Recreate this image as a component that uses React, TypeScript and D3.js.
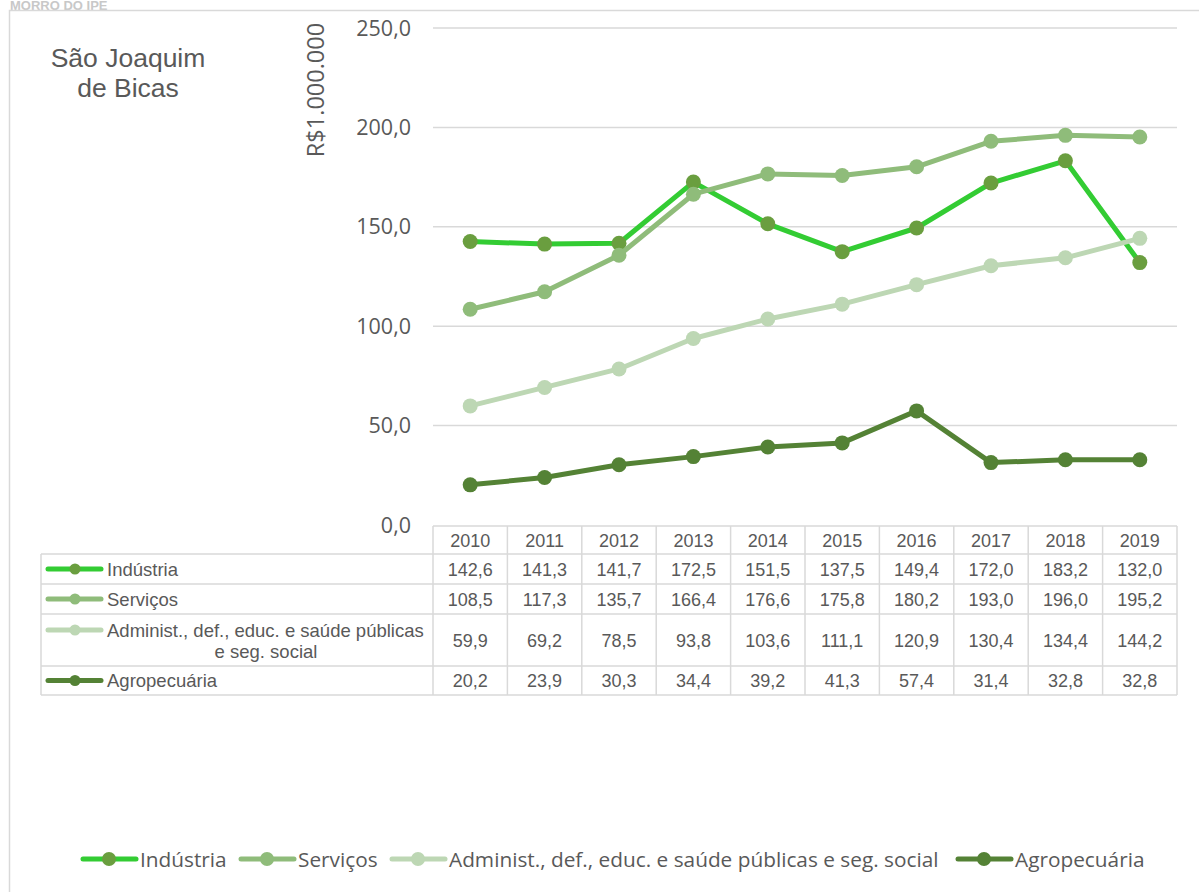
import React from "react";
import * as d3 from "d3";

const years = ["2010", "2011", "2012", "2013", "2014", "2015", "2016", "2017", "2018", "2019"];
const industria = [142.6, 141.3, 141.7, 172.5, 151.5, 137.5, 149.4, 172.0, 183.2, 132.0];
const servicos = [108.5, 117.3, 135.7, 166.4, 176.6, 175.8, 180.2, 193.0, 196.0, 195.2];
const administ = [59.9, 69.2, 78.5, 93.8, 103.6, 111.1, 120.9, 130.4, 134.4, 144.2];
const agro = [20.2, 23.9, 30.3, 34.4, 39.2, 41.3, 57.4, 31.4, 32.8, 32.8];
const yTicks = [0, 50, 100, 150, 200, 250];

const series = [
  { name: "Indústria", tableName: ["Indústria"], values: industria, line: "#33CC33", marker: "#6A9E3F" },
  { name: "Serviços", tableName: ["Serviços"], values: servicos, line: "#8FBC7A", marker: "#8FBC7A" },
  { name: "Administ., def., educ. e saúde públicas e seg. social", tableName: ["Administ., def., educ. e saúde públicas", "e seg. social"], values: administ, line: "#BDD7B4", marker: "#BDD7B4" },
  { name: "Agropecuária", tableName: ["Agropecuária"], values: agro, line: "#548235", marker: "#548235" },
];

const fmt = (v: number) => v.toFixed(1).replace(".", ",");

export default function App() {
  const W = 1199, H = 892;
  const plotL = 433, plotR = 1177, plotT = 28, plotB = 525;
  const x = d3.scaleBand<string>().domain(years).range([plotL, plotR]);
  const y = d3.scaleLinear().domain([0, 250]).range([plotB, plotT]);
  const line = d3.line<number>().x((_, i) => x(years[i])! + x.bandwidth() / 2).y((d) => y(d));

  const rowEdges = [526, 554, 584, 614, 666, 695];
  const tableLeft = 41;
  const grid = "#D9D9D9";
  const txt = "#595959";
  const tf = "Liberation Sans, Arial";

  const legendItems = [81, 239, 390, 956];

  return (
    <svg width={W} height={H} style={{ position: "absolute", left: 0, top: 0, background: "#fff" }}>
      <text x={10} y={9.5} fontFamily={tf} fontWeight="bold" fontSize={13} fill="#C8C8C8">MORRO DO IPE</text>
      <rect x={9.5} y={10.5} width={1200} height={900} fill="none" stroke="#D9D9D9" strokeWidth={1.5} />

      <text x={128} y={67} textAnchor="middle" fontFamily={tf} fontSize={26.5} fill={txt}>São Joaquim</text>
      <text x={128} y={97} textAnchor="middle" fontFamily={tf} fontSize={26.5} fill={txt}>de Bicas</text>

      <text transform={`translate(324,90) rotate(-90)`} textAnchor="middle" fontFamily="Open Sans, sans-serif" fontSize={23.5} fill={txt}>R$1.000.000</text>

      {yTicks.map((t) => (
        <g key={t}>
          {t > 0 && <line x1={plotL} x2={plotR} y1={y(t)} y2={y(t)} stroke={grid} strokeWidth={1.5} />}
          <text x={411} y={y(t) + 7.5} textAnchor="end" fontFamily="Open Sans, sans-serif" fontSize={21.5} fill={txt}>{fmt(t)}</text>
        </g>
      ))}

      {/* table */}
      <g stroke={grid} strokeWidth={1.5} fill="none">
        <line x1={plotL} x2={plotR} y1={rowEdges[0]} y2={rowEdges[0]} />
        {rowEdges.slice(1).map((r) => (
          <line key={r} x1={tableLeft} x2={plotR} y1={r} y2={r} />
        ))}
        <line x1={tableLeft} x2={tableLeft} y1={rowEdges[1]} y2={rowEdges[5]} />
        {years.map((yr) => (
          <line key={yr} x1={x(yr)!} x2={x(yr)!} y1={rowEdges[0]} y2={rowEdges[5]} />
        ))}
        <line x1={plotR} x2={plotR} y1={rowEdges[0]} y2={rowEdges[5]} />
      </g>
      {years.map((yr) => (
        <text key={yr} x={x(yr)! + x.bandwidth() / 2} y={(rowEdges[0] + rowEdges[1]) / 2 + 6.5} textAnchor="middle" fontFamily={tf} fontSize={18} fill={txt}>{yr}</text>
      ))}
      {series.map((s, si) => {
        const top = rowEdges[si + 1], bot = rowEdges[si + 2];
        const cy = (top + bot) / 2;
        const ly = si === 2 ? top + 16 : cy;
        return (
          <g key={s.name}>
            <line x1={48} x2={101} y1={ly} y2={ly} stroke={s.line} strokeWidth={5} strokeLinecap="round" />
            <circle cx={75} cy={ly} r={5.5} fill={s.marker} />
            {s.tableName.map((t, li) => (
              <text key={li} x={li === 0 ? 107 : 266} y={ly + 6.5 + li * 21} textAnchor={li === 0 ? "start" : "middle"} fontFamily={tf} fontSize={18.5} fill={txt}>{t}</text>
            ))}
            {s.values.map((v, i) => (
              <text key={i} x={x(years[i])! + x.bandwidth() / 2} y={cy + 6.5} textAnchor="middle" fontFamily={tf} fontSize={18} fill={txt}>{fmt(v)}</text>
            ))}
          </g>
        );
      })}

      {series.map((s) => (
        <g key={s.name}>
          <path d={line(s.values)!} fill="none" stroke={s.line} strokeWidth={5} strokeLinejoin="round" strokeLinecap="round" />
          {s.values.map((v, i) => (
            <circle key={i} cx={x(years[i])! + x.bandwidth() / 2} cy={y(v)} r={7.5} fill={s.marker} />
          ))}
        </g>
      ))}

      {/* legend */}
      {series.map((s, i) => (
        <g key={s.name}>
          <line x1={legendItems[i] + 2} x2={legendItems[i] + 55} y1={859} y2={859} stroke={s.line} strokeWidth={5} strokeLinecap="round" />
          <circle cx={legendItems[i] + 28} cy={859} r={7} fill={s.marker} />
          <text x={legendItems[i] + 59} y={866.5} fontFamily="Open Sans, sans-serif" fontSize={20.8} fill={txt}>{s.name}</text>
        </g>
      ))}
    </svg>
  );
}
